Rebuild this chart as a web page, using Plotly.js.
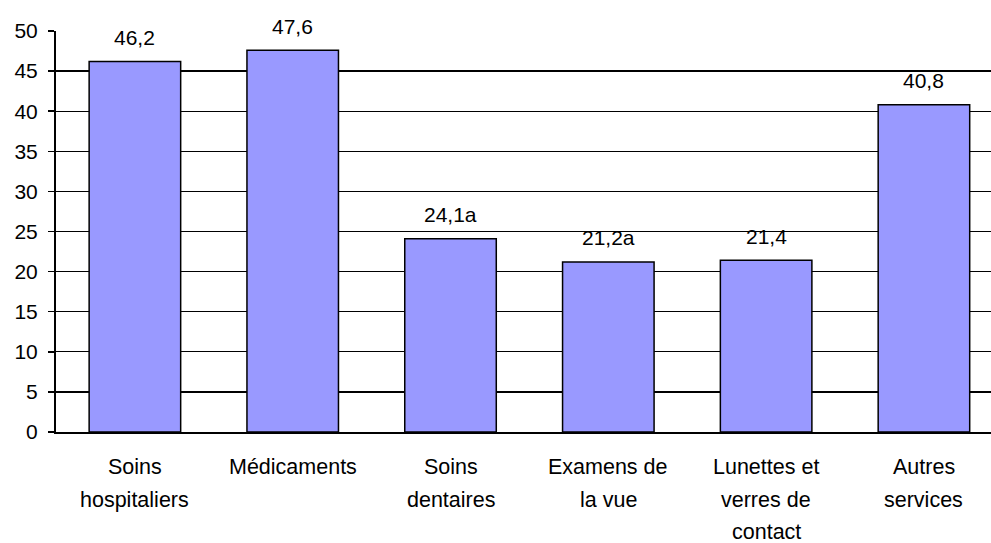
<!DOCTYPE html>
<html>
<head>
<meta charset="utf-8">
<script src="https://cdn.plot.ly/plotly-3.0.1.min.js"></script>
<style>html,body{margin:0;padding:0;background:#fff;}#chart{width:991px;height:543px;}</style>
</head>
<body>
<div id="chart"></div>
<script>
const categories = ["Soins\nhospitaliers", "Médicaments", "Soins\ndentaires", "Examens de\nla vue", "Lunettes et\nverres de\ncontact", "Autres\nservices"];
const values = [46.2, 47.6, 24.1, 21.2, 21.4, 40.8];
const valueLabels = ["46,2", "47,6", "24,1a", "21,2a", "21,4", "40,8"];
const yTicks = [0, 5, 10, 15, 20, 25, 30, 35, 40, 45, 50];

const FONT = "Liberation Sans, Arial, sans-serif";
const idx = categories.map((_, i) => i);

const annotations = [];
values.forEach((v, i) => {
  annotations.push({
    x: i, y: v, xref: 'x', yref: 'y', text: valueLabels[i], showarrow: false,
    yanchor: 'middle', yshift: 24, font: {family: FONT, size: 21, color: '#000'}
  });
});
categories.forEach((c, i) => {
  c.split('\n').forEach((line, j) => {
    annotations.push({
      x: i, y: 0, xref: 'x', yref: 'y', text: line, showarrow: false,
      yanchor: 'middle', yshift: -35 - 32.5 * j, font: {family: FONT, size: 21.5, color: '#000'}
    });
  });
});

const trace = {
  type: 'bar', x: idx, y: values,
  marker: {color: '#9999FF', line: {color: '#000', width: 1.5}},
  hoverinfo: 'none'
};

const layout = {
  width: 991, height: 543,
  margin: {l: 56, r: 0, t: 31, b: 111},
  paper_bgcolor: '#fff', plot_bgcolor: '#fff',
  showlegend: false,
  bargap: 0.42,
  font: {family: FONT, size: 21, color: '#000'},
  xaxis: {
    range: [-0.5, 5.425], showticklabels: false, ticks: '', showgrid: false,
    zeroline: false, showline: true, linecolor: '#000', linewidth: 2, fixedrange: true
  },
  yaxis: {
    range: [0, 50], tickvals: yTicks, ticktext: yTicks.map(String),
    ticks: 'outside', ticklen: 6, tickcolor: '#000', tickwidth: 1.5,
    ticklabelstandoff: 6,
    showgrid: true, gridcolor: '#000', gridwidth: 1.3,
    zeroline: false, showline: true, linecolor: '#000', linewidth: 2,
    tickfont: {family: FONT, size: 21, color: '#000'}, fixedrange: true
  },
  annotations: annotations
};

Plotly.newPlot('chart', [trace], layout, {displayModeBar: false, staticPlot: true});
</script>
</body>
</html>
